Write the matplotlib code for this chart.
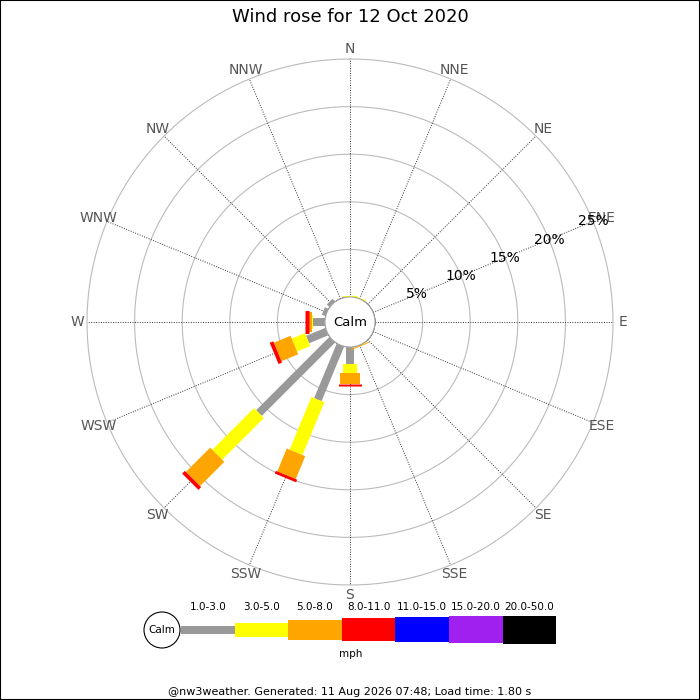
import matplotlib
matplotlib.use('Agg')
import matplotlib.pyplot as plt
import numpy as np
from matplotlib.patches import Rectangle, Circle

# directions, clockwise from north
directions = ['N', 'NNE', 'NE', 'ENE', 'E', 'ESE', 'SE', 'SSE',
              'S', 'SSW', 'SW', 'WSW', 'W', 'WNW', 'NW', 'NNW']

# percentage of time in each speed band (mph)
speed_bands = ['1.0-3.0', '3.0-5.0', '5.0-8.0', '8.0-11.0', '11.0-15.0', '15.0-20.0', '20.0-50.0']
band_colors = ['#999999', '#ffff00', '#ffa500', '#ff0000', '#0000ff', '#a020f0', '#000000']
band_widths = [8, 14, 20, 23, 25, 27, 28]  # px

pct_1_3   = [0, 0, 0, 0, 0, 0, 0, 0, 1.8, 6.2, 10.9, 2.2, 1.25, 0.4, 0.4, 0]
pct_3_5   = [0.1, 0.1, 0, 0, 0, 0, 0, 0.05, 0.9, 6.0, 6.2, 1.5, 0.15, 0, 0, 0]
pct_5_8   = [0, 0, 0, 0, 0, 0, 0, 0.1, 1.2, 2.6, 3.6, 1.9, 0.25, 0, 0, 0]
pct_8_11  = [0, 0, 0, 0, 0, 0, 0, 0, 0.2, 0.3, 0.4, 0.4, 0.4, 0, 0, 0]
pct_11_15 = [0] * 16
pct_15_20 = [0] * 16
pct_20_50 = [0] * 16
bands = [pct_1_3, pct_3_5, pct_5_8, pct_8_11, pct_11_15, pct_15_20, pct_20_50]

rings = [5, 10, 15, 20, 25]

fig = plt.figure(figsize=(7, 7), dpi=100)

# polar area: centre (350,322) px, outer ring radius 263 px, calm hole 25 px
R = 263 / 700
cx, cy = 0.5, 1 - 322 / 700
ax = fig.add_axes([cx - R, cy - R, 2 * R, 2 * R], projection='polar')
ax.set_theta_zero_location('N')
ax.set_theta_direction(-1)
ax.set_ylim(0, 25)
ax.set_rorigin(-25 * 25 / 238)
ax.set_xticks([])
ax.set_yticks([])
ax.grid(False)
for s in ax.spines.values():
    s.set_visible(False)
ax.patch.set_alpha(0)

theta = np.radians(np.arange(16) * 22.5)
full = np.linspace(0, 2 * np.pi, 361)

for r in rings:
    ax.plot(full, np.full_like(full, r), color='#bbbbbb', lw=0.8, zorder=1, clip_on=False)
for th in theta:
    ax.plot([th, th], [0, 25], color='#333333', lw=0.7, ls=(0, (1, 1.5)), zorder=1)

# stacked bars
base = np.zeros(16)
for vals, col, w in zip(bands, band_colors, band_widths):
    vals = np.array(vals, dtype=float)
    for i in range(16):
        if vals[i] > 0:
            ax.plot([theta[i], theta[i]], [base[i], base[i] + vals[i]], color=col,
                    lw=w * 0.72, solid_capstyle='butt', zorder=3)
    base = base + vals

# compass labels
for name, th in zip(directions, theta):
    ax.text(th, 26.0, name, ha='center', va='center', fontsize=10, color='#555555')

# radial labels along ENE
for r in rings:
    ax.text(np.radians(67.5), r, '%d%%' % r, ha='center', va='center', fontsize=10,
            color='black', zorder=4)

# overlay axes in pixel coords for calm disc / title / legend / footer
ov = fig.add_axes([0, 0, 1, 1])
ov.set_xlim(0, 700)
ov.set_ylim(700, 0)
ov.axis('off')
ov.patch.set_alpha(0)

ov.add_patch(Circle((350, 322), 25, facecolor='white', edgecolor='#aaaaaa', lw=0.8))
ov.text(350, 322, 'Calm', ha='center', va='center', fontsize=9.5)

ov.text(350, 17, 'Wind rose for 12 Oct 2020', ha='center', va='center', fontsize=13)

seg_left = 181
seg_w = 53.6
lx = [seg_left + seg_w * i + seg_w / 2 for i in range(len(speed_bands))]
ov.bar(lx, band_widths, width=seg_w, bottom=[629.5 - h / 2 for h in band_widths],
       color=band_colors, linewidth=0)
for x, lab in zip(lx, speed_bands):
    ov.text(x, 607, lab, ha='center', va='center', fontsize=7.5)
ov.add_patch(Circle((162, 630), 18, facecolor='white', edgecolor='black', lw=0.8, zorder=5))
ov.text(162, 630, 'Calm', ha='center', va='center', fontsize=7.5, zorder=6)
ov.text(351, 654, 'mph', ha='center', va='center', fontsize=7.5)

ov.text(350, 692, '@nw3weather. Generated: 11 Aug 2026 07:48; Load time: 1.80 s',
        ha='center', va='center', fontsize=8)

fig.patches.append(Rectangle((0, 0), 1, 1, transform=fig.transFigure, fill=False,
                             edgecolor='black', lw=1.5))

fig.savefig('out.png', dpi=100)
